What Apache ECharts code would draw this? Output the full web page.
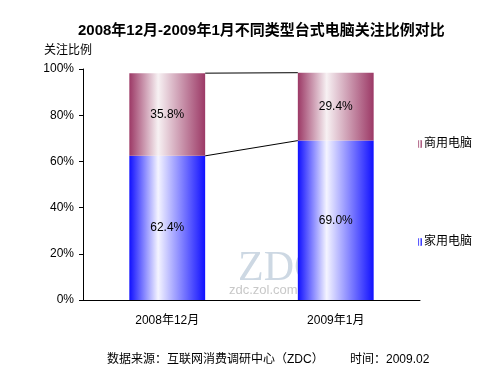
<!DOCTYPE html>
<html><head><meta charset="utf-8">
<script src="https://cdn.jsdelivr.net/npm/echarts@6/dist/echarts.min.js"></script>
<style>html,body{margin:0;padding:0;background:#fff}#c{width:500px;height:375px}</style>
</head><body><div id="c"></div>
<script>
const categories = ['2008年12月', '2009年1月'];
const homeValues = [62.4, 69.0];
const bizValues = [35.8, 29.4];
const yTicks = [0, 20, 40, 60, 80, 100];

const FONT = '"Liberation Sans", Arial, "Noto Sans CJK SC", sans-serif';
function grad(edge, mid) {
  return new echarts.graphic.LinearGradient(0, 0, 1, 0, [
    {offset: 0, color: edge}, {offset: 0.38, color: mid}, {offset: 1, color: edge}
  ]);
}
const chart = echarts.init(document.getElementById('c'));
const barW = 0.45;
chart.setOption({
  animation: false,
  backgroundColor: '#fff',
  textStyle: {fontFamily: FONT},
  title: [
    {text: '2008年12月-2009年1月不同类型台式电脑关注比例对比', left: 73, top: 18,
     textStyle: {fontSize: 15, fontWeight: 'bold', color: '#000', fontFamily: FONT}},
    {text: '关注比例', left: 39, top: 40, textStyle: {fontSize: 12, fontWeight: 'normal', color: '#000', fontFamily: FONT}},
    {text: '数据来源：互联网消费调研中心（ZDC）', left: 102, top: 349, textStyle: {fontSize: 12, fontWeight: 'normal', color: '#000', fontFamily: FONT}},
    {text: '时间：2009.02', left: 345, top: 349, textStyle: {fontSize: 12, fontWeight: 'normal', color: '#000', fontFamily: FONT}}
  ],
  graphic: [
    {type: 'text', left: 238, top: 248, z: -1, style: {text: 'ZDC', font: '42px "Liberation Serif", serif', fill: '#cdd8e3'}},
    {type: 'text', left: 229, top: 284, z: -1, style: {text: 'zdc.zol.com.cn', font: '13px "Liberation Sans", sans-serif', fill: '#c8c8c8'}}
  ],
  legend: {
    orient: 'vertical', left: 413, top: 133, itemGap: 86, itemWidth: 4, itemHeight: 8,
    data: ['商用电脑', '家用电脑'],
    textStyle: {fontSize: 12, color: '#000', fontFamily: FONT, padding: [0, 0, 0, -3]}
  },
  grid: {left: 83, right: 80, top: 69, bottom: 75},
  xAxis: {
    type: 'category', data: categories,
    axisLine: {lineStyle: {color: '#000'}},
    axisTick: {lineStyle: {color: '#000'}, length: 4},
    axisLabel: {color: '#000', fontSize: 12, margin: 15, fontFamily: FONT}
  },
  yAxis: {
    type: 'value', min: 0, max: 100, interval: 20,
    axisLine: {show: true, lineStyle: {color: '#000'}},
    axisTick: {show: true, lineStyle: {color: '#000'}, length: 4},
    splitLine: {show: false},
    axisLabel: {formatter: '{value}%', color: '#000', fontSize: 12, margin: 9, fontFamily: FONT}
  },
  series: [
    {name: '家用电脑', type: 'bar', stack: 's', barWidth: (barW * 100) + '%', data: homeValues,
     itemStyle: {color: grad('#1010ff', '#f4f4ff')},
     label: {show: true, position: 'inside', color: '#000', fontSize: 12, fontFamily: FONT, formatter: p => p.value.toFixed(1) + '%'}},
    {name: '商用电脑', type: 'bar', stack: 's', barWidth: (barW * 100) + '%', data: bizValues,
     itemStyle: {color: grad('#9c3966', '#f7f1f3')},
     label: {show: true, position: 'inside', color: '#000', fontSize: 12, fontFamily: FONT, formatter: p => p.value.toFixed(1) + '%'}},
    {type: 'custom', silent: true, z: 1,
     data: [[0]],
     renderItem: function (params, api) {
       const half = api.size([1, 0])[0] * barW / 2;
       const children = [];
       const levels = [[homeValues[0], homeValues[1]], [homeValues[0] + bizValues[0], homeValues[1] + bizValues[1]]];
       levels.forEach(l => {
         const a = api.coord([0, l[0]]);
         const b = api.coord([1, l[1]]);
         children.push({type: 'line', shape: {x1: a[0] + half, y1: a[1], x2: b[0] - half, y2: b[1]},
                        style: {stroke: '#000', lineWidth: 1}});
       });
       return {type: 'group', children: children};
     }}
  ]
});
</script></body></html>
